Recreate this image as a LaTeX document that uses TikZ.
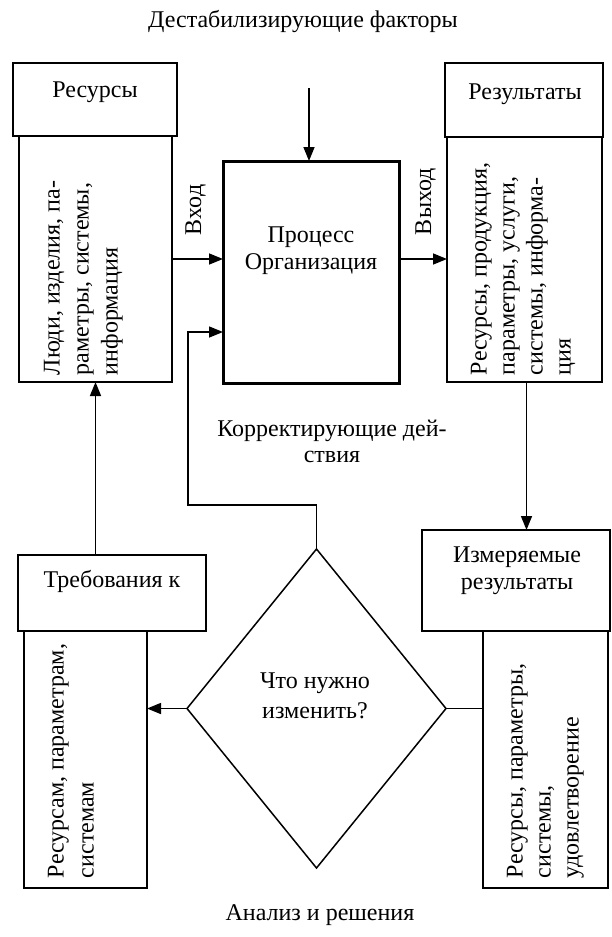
\documentclass[tikz,border=0pt]{standalone}
\usepackage{fontspec}
\setmainfont{Liberation Serif}
\usetikzlibrary{arrows.meta,shapes.geometric,calc}
\begin{document}
\begin{tikzpicture}[x=1pt,y=-1pt,
  every node/.style={font=\fontsize{24}{28}\selectfont, inner sep=0pt, outer sep=0pt},
  boxst/.style={draw, line width=1.5pt, anchor=north west},
  procst/.style={draw, line width=3pt, anchor=north west},
  arr/.style={line width=1.5pt, -{Triangle[length=14pt,width=11pt]}},
  ln/.style={line width=1.5pt},
  vtext/.style={rotate=90, anchor=north west, align=left},
  htext/.style={anchor=base, align=center}]
\useasboundingbox (0,0) rectangle (612,937);
\fill[white] (0,0) rectangle (612,937);
% boxes
\node[boxst, minimum width=164pt, minimum height=73pt] (resh) at (13,63) {};
\node[boxst, minimum width=153pt, minimum height=246pt] (resb) at (19,136) {};
\node[boxst, minimum width=158pt, minimum height=74pt] (rslh) at (445,63) {};
\node[boxst, minimum width=155pt, minimum height=245pt] (rslb) at (447,137) {};
\node[procst, minimum width=176pt, minimum height=222pt] (proc) at (223,161) {};
\node[boxst, minimum width=188pt, minimum height=101pt] (izmh) at (422,530) {};
\node[boxst, minimum width=125pt, minimum height=257pt] (izmb) at (483,631) {};
\node[boxst, minimum width=188pt, minimum height=76pt] (trbh) at (18,555) {};
\node[boxst, minimum width=123pt, minimum height=257pt] (trbb) at (24,631) {};
\node[diamond, draw, line width=1.5pt, minimum width=259pt, minimum height=319pt, inner sep=0pt, aspect=0.8] (dia) at (316.5,708.5) {};
% coordinates
\coordinate (dtop) at (309,88);
\coordinate (cbend) at (188,505);
% connectors
\draw[arr] (dtop) -- (dtop |- proc.north);
\draw[arr] (resb.east) -- (resb.east -| proc.west);
\draw[arr] (proc.east |- resb.east) -- (resb.east -| rslb.west);
\draw[arr] (dia.north) |- (cbend) |- ([yshift=51pt]proc.south west);
\draw[arr] ([xshift=2pt]rslb.south) -- ([xshift=2pt]rslb.south |- izmh.north);
\draw[arr] (dia.west) -- (dia.west -| trbb.east);
\draw[ln] (dia.east) -- (dia.east -| izmb.west);
\draw[arr] (resb.south |- trbh.north) -- (resb.south);
% texts
\node[htext] (ttl) at (303,27) {Дестабилизирующие факторы};
\node[htext] (reslbl) at (95,97) {Ресурсы};
\node[htext] (rsllbl) at (525,99) {Результаты};
\node[htext, font=\fontsize{24}{27}\selectfont] (proclbl) at (311,269) {Процесс\\Организация};
\node[rotate=90, anchor=base west] (inlbl) at (201,235) {Вход};
\node[rotate=90, anchor=base west] (outlbl) at (431,235) {Выход};
\node[htext, font=\fontsize{24}{26}\selectfont] (corlbl) at (332,462) {Корректирующие дей-\\ствия};
\node[htext, font=\fontsize{24}{27}\selectfont] (izmlbl) at (517,589) {Измеряемые\\результаты};
\node[htext] (trblbl) at (112,587) {Требования к};
\node[htext, font=\fontsize{24}{30}\selectfont] (dialbl) at (315,718) {Что нужно\\изменить?};
\node[htext] (anlbl) at (320,920) {Анализ и решения};
\node[vtext, font=\fontsize{24}{29}\selectfont] (restxt) at (44,375) {Люди, изделия, па-\\раметры, системы,\\информация};
\node[vtext] (rsltxt) at (471,375) {Ресурсы, продукция,\\параметры, услуги,\\системы, информа-\\ция};
\node[vtext, font=\fontsize{24}{30}\selectfont] (trbtxt) at (48,878) {Ресурсам, параметрам,\\системам};
\node[vtext] (izmtxt) at (507,878) {Ресурсы, параметры,\\системы,\\удовлетворение};
\end{tikzpicture}
\end{document}
